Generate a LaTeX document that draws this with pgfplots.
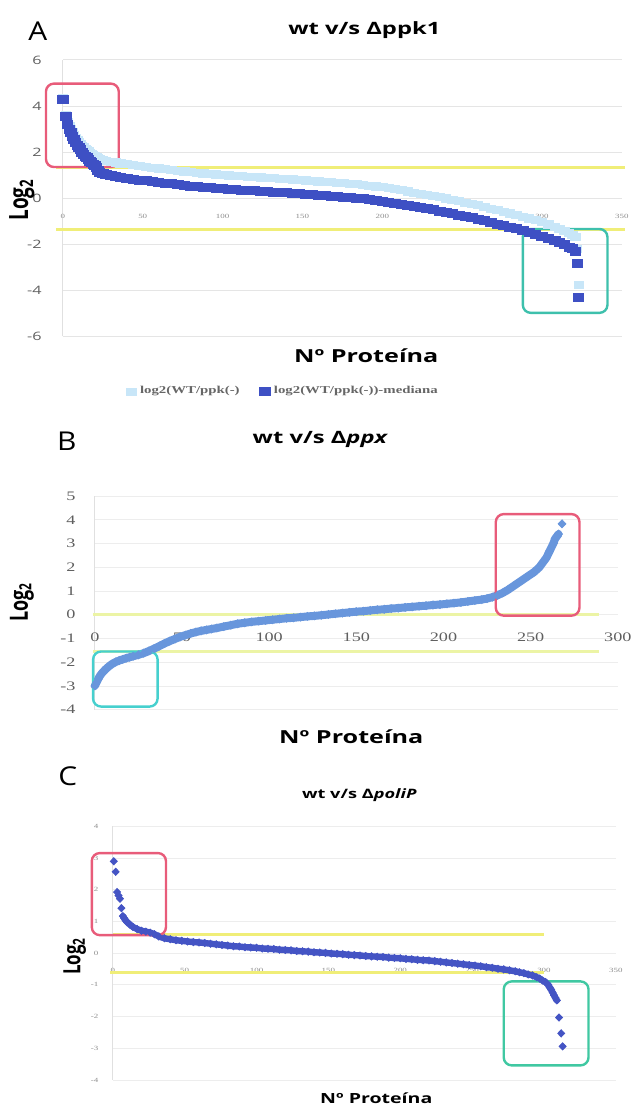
\documentclass[border=0pt]{standalone}
\usepackage{fontspec}
\setmainfont{Open Sans}
\newfontfamily\serif{Liberation Serif}
\usepackage{graphicx}
\usepackage{pgfplots}
\usepackage{pgfplotstable}
\pgfplotsset{compat=1.18}

\definecolor{dkblue}{RGB}{62,80,196}
\definecolor{ltblue}{RGB}{200,230,248}
\definecolor{cfblue}{RGB}{104,150,220}
\definecolor{roblue}{RGB}{68,84,196}
\definecolor{ylw}{RGB}{240,238,120}
\definecolor{ylwpale}{RGB}{236,244,165}
\definecolor{boxred}{RGB}{232,92,122}
\definecolor{boxteal}{RGB}{62,192,172}
\definecolor{boxcyan}{RGB}{70,208,206}
\definecolor{boxgreen}{RGB}{64,200,162}
\definecolor{tickgray}{RGB}{95,95,95}

% panel B: wt vs ppx
\pgfplotstableread{
x y
0 -3.00
1 -2.85
2 -2.70
3 -2.57
4 -2.47
5 -2.39
6 -2.31
8 -2.18
10 -2.07
12 -1.99
14 -1.93
16 -1.88
18 -1.83
20 -1.79
22 -1.75
25 -1.69
28 -1.62
31 -1.53
34 -1.43
37 -1.32
40 -1.21
43 -1.11
46 -1.02
49 -0.93
52 -0.86
55 -0.79
58 -0.73
61 -0.68
64 -0.64
67 -0.60
70 -0.56
74 -0.50
78 -0.44
82 -0.38
86 -0.34
90 -0.30
94 -0.27
98 -0.24
102 -0.21
106 -0.18
110 -0.15
114 -0.13
118 -0.10
122 -0.07
126 -0.05
130 -0.02
134 0.01
138 0.04
142 0.07
146 0.10
150 0.13
154 0.15
158 0.18
162 0.21
166 0.23
170 0.26
174 0.28
178 0.31
182 0.33
186 0.36
190 0.38
194 0.41
198 0.43
202 0.46
206 0.49
210 0.52
214 0.56
218 0.60
222 0.64
225 0.68
228 0.74
231 0.82
234 0.92
237 1.05
240 1.20
243 1.35
246 1.50
249 1.65
252 1.80
255 2.00
257 2.20
259 2.40
261 2.70
263 3.00
264 3.20
265 3.30
266 3.40
268 3.83
}\ppx

% panel C: wt vs poliP
\pgfplotstableread{
x y
0.7 2.90
2 2.57
3 1.93
4 1.82
5 1.72
6 1.42
7 1.17
8 1.10
9 1.03
10 0.98
12 0.90
14 0.83
17 0.76
20 0.71
23 0.68
26 0.65
29 0.60
32 0.53
36 0.47
40 0.44
44 0.41
48 0.39
52 0.37
56 0.35
60 0.34
64 0.32
68 0.30
72 0.28
76 0.26
80 0.24
84 0.22
88 0.21
92 0.19
96 0.18
100 0.17
104 0.15
108 0.14
112 0.13
116 0.11
120 0.10
124 0.09
128 0.07
132 0.06
136 0.05
140 0.03
144 0.02
148 0.01
152 -0.01
156 -0.02
160 -0.03
164 -0.05
168 -0.06
172 -0.07
176 -0.09
180 -0.10
184 -0.11
188 -0.12
192 -0.14
196 -0.15
200 -0.16
204 -0.18
208 -0.19
212 -0.21
216 -0.22
220 -0.23
224 -0.25
228 -0.27
232 -0.29
236 -0.31
240 -0.33
244 -0.35
248 -0.37
252 -0.39
256 -0.41
260 -0.44
264 -0.46
268 -0.49
272 -0.51
276 -0.54
280 -0.57
283 -0.60
286 -0.63
289 -0.67
292 -0.70
295 -0.76
297 -0.80
299 -0.86
301 -0.91
302 -0.95
303 -1.00
304 -1.08
305 -1.15
306 -1.24
307 -1.33
308 -1.41
309 -1.49
310.5 -2.03
312 -2.53
313 -2.94
}\polip

% the source figure is stretched sideways, so text is too
\newcommand{\sx}[1]{\scalebox{1.4}[1]{#1}}

\pgfplotsset{
  panel/.style={
    scale only axis,
    axis x line=middle, axis y line=left,
    x axis line style={draw=none,-},
    y axis line style={draw=black!12,-},
    major tick length=0pt,
    hide obscured x ticks=false, hide obscured y ticks=false,
    ymajorgrids, grid style={black!10, line width=0.4pt},
    clip=false,
    /pgf/number format/assume math mode=true,
    xticklabel={\sx{\pgfmathprintnumber{\tick}}},
    yticklabel={\sx{\pgfmathprintnumber{\tick}}},
    xticklabel style={anchor=center, inner sep=0pt},
    yticklabel style={anchor=east, inner sep=0pt},
  },
}
\tikzset{redbox/.style={draw=boxred, line width=1.2pt, rounded corners=4pt}}

\begin{document}
\begin{tikzpicture}
\begin{scope}[x=0.5pt,y=-0.5pt]
\useasboundingbox (0,0) rectangle (634,1110);
\end{scope}

% ---------------- A ----------------
\begin{axis}[panel, at={(31.5pt,-30pt)}, anchor=north west,
  width=280pt, height=138.5pt,
  xmin=0, xmax=350, ymin=-6, ymax=6,
  xtick={0,50,...,350}, ytick={-6,-4,...,6},
  xticklabel style={font=\serif\fontsize{3.2}{4}\selectfont, text=black!45, yshift=-9pt},
  yticklabel style={font=\fontsize{5.8}{7}\selectfont, text=tickgray, xshift=-10.5pt},
  legend style={at={(0.396,-0.2)}, anchor=center, draw=none, fill=none,
    legend columns=2, font=\serif\bfseries\fontsize{5.3}{6.5}\selectfont, text=black!60,
    /tikz/every even column/.append style={column sep=8pt}},
]
\addplot[forget plot, ylw, line width=1.5pt] coordinates {(-4,1.31) (352,1.31)};
\addplot[forget plot, ylw, line width=1.5pt] coordinates {(-4,-1.37) (352,-1.37)};
\addplot[only marks, mark=square*, mark size=1.8pt, color=ltblue, mark options={xscale=1.3}] coordinates {
(0,4.35)(2,3.62)(3,3.30)(4,3.12)(5,2.98)(6,2.85)(7,2.72)(8,2.62)(9,2.52)(10,2.44)(11,2.36)(12,2.28)(13,2.21)(14,2.15)(15,2.09)(16,2.03)(17,1.98)(18,1.93)(19,1.88)(20,1.84)(21,1.80)(22,1.76)(23,1.72)(25,1.66)(27,1.62)(30,1.58)(33,1.55)(36,1.51)(40,1.47)(44,1.43)(48,1.39)(52,1.35)(56,1.32)(60,1.29)(64,1.26)(68,1.22)(72,1.19)(76,1.16)(80,1.13)(84,1.10)(88,1.07)(92,1.05)(96,1.03)(100,1.01)(104,0.99)(108,0.97)(112,0.95)(116,0.93)(120,0.92)(124,0.90)(128,0.88)(132,0.87)(136,0.85)(140,0.83)(144,0.81)(148,0.79)(152,0.77)(156,0.75)(160,0.73)(164,0.71)(168,0.69)(172,0.67)(176,0.65)(180,0.63)(184,0.60)(188,0.57)(192,0.54)(196,0.51)(200,0.47)(204,0.43)(208,0.39)(212,0.34)(216,0.29)(220,0.24)(224,0.19)(228,0.14)(232,0.09)(236,0.04)(240,-0.01)(244,-0.07)(248,-0.13)(252,-0.19)(256,-0.25)(260,-0.31)(264,-0.38)(268,-0.45)(272,-0.52)(276,-0.59)(280,-0.66)(284,-0.73)(288,-0.80)(292,-0.88)(296,-0.96)(300,-1.04)(304,-1.14)(308,-1.24)(311,-1.33)(314,-1.42)(317,-1.52)(319,-1.60)(321,-1.70)(322,-2.22)(323,-3.75)
};
\addlegendentry{\sx{log2(WT/ppk(-)}}
\addplot[only marks, mark=square*, mark size=2pt, color=dkblue, mark options={xscale=1.3}] coordinates {
(0,4.30)(2,3.55)(3,3.20)(4,3.00)(5,2.85)(6,2.70)(7,2.55)(8,2.42)(9,2.30)(10,2.20)(11,2.10)(12,2.00)(13,1.91)(14,1.83)(15,1.75)(16,1.68)(17,1.61)(18,1.54)(19,1.47)(20,1.41)(21,1.35)(22,1.22)(23,1.12)(25,1.06)(27,1.02)(30,0.98)(33,0.95)(36,0.91)(40,0.87)(44,0.83)(48,0.79)(52,0.75)(56,0.72)(60,0.69)(64,0.66)(68,0.62)(72,0.59)(76,0.56)(80,0.53)(84,0.50)(88,0.47)(92,0.45)(96,0.43)(100,0.41)(104,0.39)(108,0.37)(112,0.35)(116,0.33)(120,0.32)(124,0.30)(128,0.28)(132,0.27)(136,0.25)(140,0.23)(144,0.21)(148,0.19)(152,0.17)(156,0.15)(160,0.13)(164,0.11)(168,0.09)(172,0.07)(176,0.05)(180,0.03)(184,0.00)(188,-0.03)(192,-0.06)(196,-0.09)(200,-0.13)(204,-0.17)(208,-0.21)(212,-0.26)(216,-0.31)(220,-0.36)(224,-0.41)(228,-0.46)(232,-0.51)(236,-0.56)(240,-0.61)(244,-0.67)(248,-0.73)(252,-0.79)(256,-0.85)(260,-0.91)(264,-0.98)(268,-1.05)(272,-1.12)(276,-1.19)(280,-1.26)(284,-1.33)(288,-1.40)(292,-1.48)(296,-1.56)(300,-1.64)(304,-1.74)(308,-1.84)(311,-1.93)(314,-2.02)(317,-2.12)(319,-2.20)(321,-2.30)(322,-2.82)(323,-4.30)
};
\addlegendentry{\sx{log2(WT/ppk(-))-mediana}}
\draw[redbox] (axis cs:-10.6,4.97) rectangle (axis cs:35,1.35);
\draw[redbox, draw=boxteal] (axis cs:288,-1.34) rectangle (axis cs:341,-4.98);
\end{axis}

% ---------------- B ----------------
\begin{axis}[panel, at={(47.5pt,-248.5pt)}, anchor=north west,
  width=262pt, height=107pt,
  xmin=0, xmax=300, ymin=-4, ymax=5,
  xtick={0,50,...,300}, ytick={-4,-3,...,5},
  grid style={black!7},
  xticklabel style={font=\serif\fontsize{6.5}{8}\selectfont, text=tickgray, yshift=-11.5pt},
  yticklabel style={font=\serif\fontsize{6.5}{8}\selectfont, text=tickgray, xshift=-9.5pt},
]
\addplot[ylwpale, line width=1.5pt] coordinates {(-1,0) (289,0)};
\addplot[ylwpale, line width=1.5pt] coordinates {(-1,-1.55) (289,-1.55)};
\addplot[cfblue, line width=4pt, line join=round, line cap=round, restrict x to domain=0:266] table {\ppx};
\addplot[only marks, mark=diamond*, mark size=2pt, color=cfblue, mark options={xscale=1.3}] table {\ppx};
\draw[redbox] (axis cs:230,4.24) rectangle (axis cs:278,-0.04);
\draw[redbox, draw=boxcyan] (axis cs:-1,-1.55) rectangle (axis cs:36,-3.87);
\end{axis}

% ---------------- C ----------------
\begin{axis}[panel, at={(56.5pt,-414pt)}, anchor=north west,
  width=252pt, height=127pt,
  xmin=0, xmax=350, ymin=-4, ymax=4,
  xtick={0,50,...,350}, ytick={-4,-3,...,4},
  grid style={black!7},
  xticklabel style={font=\serif\fontsize{3.2}{4}\selectfont, text=black!45, yshift=-8.5pt},
  yticklabel style={font=\serif\fontsize{3.2}{4}\selectfont, text=black!45, xshift=-7pt},
]
\addplot[ylw, line width=1.5pt] coordinates {(0,0.6) (300,0.6)};
\addplot[ylw, line width=1.5pt] coordinates {(-2,-0.6) (300,-0.6)};
\addplot[roblue, line width=3.2pt, line join=round, line cap=round, restrict x to domain=7:309] table {\polip};
\addplot[only marks, mark=diamond*, mark size=1.8pt, color=roblue, mark options={xscale=1.3}] table {\polip};
\draw[redbox] (axis cs:-14.6,3.16) rectangle (axis cs:37,0.57);
\draw[redbox, draw=boxgreen] (axis cs:272,-0.89) rectangle (axis cs:331,-3.54);
\end{axis}

% ---------------- text ----------------
\begin{scope}[x=0.5pt,y=-0.5pt]
\node[font=\fontsize{13}{15}\selectfont] at (38,31) {\scalebox{1.15}[1]{A}};
\node[font=\bfseries\fontsize{8.5}{10}\selectfont] at (365,30) {\sx{wt v/s Δppk1}};
\node[font=\bfseries\fontsize{9}{11}\selectfont] at (367,356) {\sx{Nº Proteína}};
\node[font=\bfseries\fontsize{9.5}{11}\selectfont, rotate=90] at (22,200) {\scalebox{1}[1.4]{Log\textsubscript{2}}};

\node[font=\fontsize{13}{15}\selectfont] at (67,442) {\scalebox{1.15}[1]{B}};
\node[font=\bfseries\fontsize{8.5}{10}\selectfont] at (321,440) {\sx{wt v/s Δ\textit{ppx}}};
\node[font=\bfseries\fontsize{9}{11}\selectfont] at (352,738) {\sx{Nº Proteína}};
\node[font=\bfseries\fontsize{9}{11}\selectfont, rotate=90] at (22,603) {\scalebox{1}[1.4]{Log\textsubscript{2}}};

\node[font=\fontsize{13}{15}\selectfont] at (68,778) {\scalebox{1.15}[1]{C}};
\node[font=\bfseries\fontsize{6.5}{8}\selectfont] at (360,797) {\sx{wt v/s Δ\textit{poliP}}};
\node[font=\bfseries\fontsize{7}{8}\selectfont] at (377,1100) {\sx{Nº Proteína}};
\node[font=\bfseries\fontsize{8.5}{10}\selectfont, rotate=90] at (75,958) {\scalebox{1}[1.4]{Log\textsubscript{2}}};
\end{scope}
\end{tikzpicture}
\end{document}
